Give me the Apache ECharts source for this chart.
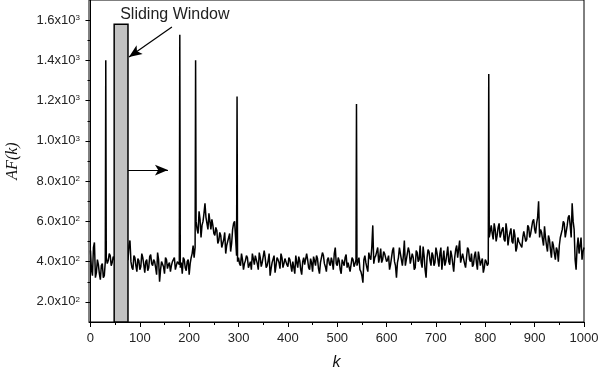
<!DOCTYPE html>
<html>
<head>
<meta charset="utf-8">
<title>AF(k) sliding window</title>
<script src="https://cdn.jsdelivr.net/npm/echarts@6/dist/echarts.min.js"></script>
<style>
    * { margin:0; padding:0; }
    #main { width:602px; height:370px; }
</style>
</head>
<body>
<div id="main"></div>
<script>
// AF(k) read at k = 0, 4, 8, ... 1000
var kStep = 4;
var afBase = [
    455,330,495,345,385,310,390,330,
    420,405,430,395,420,
    410,390,420,400,415,395,410,
    505,370,430,380,415,360,440,385,400,355,425,390,410,370,445,300,400,375,420,365,395,380,410,360,400,385,
    395,420,370,400,335,420,480,
    470,
    560,650,520,600,690,
    590,640,560,580,530,555,505,530,470,545,480,520,450,560,600,
    430,
    420,380,410,390,430,370,400,440,385,410,360,420,395,455,370,405,330,395,430,380,410,365,420,390,400,
    375,410,350,395,430,370,405,335,420,385,410,360,395,425,380,415,340,400,430,375,410,390,420,360,470,
    380,405,340,395,420,370,400,355,410,390,
    380,420,350,295,430,370,445,410,580,420,450,395,465,410,440,400,
    430,385,455,400,320,420,440,380,505,410,470,390,440,360,455,400,480,370,430,320,460,405,445,380,470,
    410,440,360,455,400,475,385,430,350,460,420,505,400,445,370,470,410,440,385,450,360,420,400,345,410,380,
    520,580,510,560,530,590,540,570,500,550,520,565,490,530,470,500,480,520,545,510,570,540,600,560,590,
    700,560,510,575,480,530,460,500,440,470,400,520,560,590,550,620,580,690,560,360,520,480,410,470
];
// AF(k) read in between, at k = 2, 6, 10, ... 998
var midOffset = 2;
var afMid = [
    360,470,320,410,340,380,320,400,
    390,440,380,425,400,
    400,410,395,420,400,405,
    480,400,360,420,350,405,375,420,345,410,370,435,380,400,335,410,360,395,340,410,385,350,400,420,365,405,
    370,340,410,355,410,390,440,420,
    600,540,610,580,640,620,
    560,600,610,540,570,490,545,470,510,440,500,540,490,590,520,
    400,390,440,360,405,420,385,360,415,430,390,445,375,400,420,380,440,365,400,345,420,395,440,370,415,385,
    420,380,400,340,395,425,360,400,385,440,370,415,350,405,430,365,395,445,390,350,420,380,400,440,390,
    420,360,410,380,435,395,350,420,375,410,
    400,360,330,410,395,350,420,470,390,430,470,420,395,450,420,
    410,360,420,470,380,395,470,410,430,380,405,450,390,420,370,445,410,395,475,360,
    420,450,380,430,395,445,375,470,410,380,435,400,455,390,420,480,415,395,440,390,
    420,460,400,375,430,395,450,380,415,370,400,390,
    550,540,590,500,570,520,560,510,590,480,545,500,560,450,520,500,470,550,500,580,520,570,610,540,
    620,520,545,480,520,450,510,420,480,410,455,480,540,600,520,580,630,520,600,410,470,440,520,450
];
// narrow peaks
var spikeK   = [31, 181, 213, 297, 539, 807];
var spikeVal = [1400, 1527, 1400, 1220, 1183, 1332];

// sliding window and its notes
var windowK = [48, 76];
var windowTop = 1580;
var arrowDiag = [[165, 1566], [78, 1417]];
var arrowRight = [[76, 855], [157, 855]];
var noteText = 'Sliding Window';
var notePos = [171, 1628];

// axes
var xMin = -3, xMax = 1000;
var yMin = 100, yMax = 1700;
var xTicks = [0, 100, 200, 300, 400, 500, 600, 700, 800, 900, 1000];
var xMinorTicks = [50, 150, 250, 350, 450, 550, 650, 750, 850, 950];
var yTicks = [200, 400, 600, 800, 1000, 1200, 1400, 1600];
var yMinorTicks = [300, 500, 700, 900, 1100, 1300, 1500];

var pts = afBase.map(function (v, i) { return [i * kStep, v]; });
afMid.forEach(function (v, i) { pts.push([midOffset + i * kStep, v]); });
spikeK.forEach(function (k, i) { pts.push([k, spikeVal[i]]); });
pts.sort(function (a, b) { return a[0] - b[0]; });

var font = 'Liberation Sans';
var black = '#000';

function sciLabel(v) {
    var e = v >= 1000 ? 3 : 2;
    var m = (v / Math.pow(10, e)).toFixed(1);
    return '{m|' + m + 'x10}{e|' + e + '}';
}

var chart = echarts.init(document.getElementById('main'));
chart.setOption({
    animation: false,
    backgroundColor: '#fff',
    grid: {left: 89, right: 18, top: 0, bottom: 48, show: true, borderColor: black, borderWidth: 1,
        outerBoundsMode: 'none'},
    xAxis: [{
        type: 'value', min: xMin, max: xMax, position: 'bottom',
        axisLine: {show: true, lineStyle: {color: black, width: 1}},
        axisTick: {show: true, length: 5, customValues: xTicks, lineStyle: {color: black}},
        axisLabel: {customValues: xTicks, margin: 10, fontSize: 13, fontFamily: font, color: '#222',
            formatter: function (v) { return String(v); }},
        splitLine: {show: false},
        name: 'k', nameLocation: 'middle', nameGap: 33,
        nameTextStyle: {fontStyle: 'italic', fontSize: 16, fontFamily: font, color: '#111'}
    }, {
        type: 'value', min: xMin, max: xMax, position: 'bottom',
        axisLine: {show: false},
        axisTick: {show: true, length: 3, customValues: xMinorTicks, lineStyle: {color: black}},
        axisLabel: {show: false},
        splitLine: {show: false}
    }],
    yAxis: [{
        type: 'value', min: yMin, max: yMax, interval: 100, position: 'left',
        axisLine: {show: true, lineStyle: {color: black, width: 1}},
        axisTick: {show: true, length: 5, customValues: yTicks, lineStyle: {color: black}},
        axisLabel: {
            customValues: yTicks, margin: 9, formatter: sciLabel,
            rich: {
                m: {fontSize: 13, fontFamily: font, color: '#222'},
                e: {fontSize: 8, fontFamily: font, color: '#222', verticalAlign: 'top'}
            }
        },
        splitLine: {show: false},
        name: 'AF(k)', nameLocation: 'middle', nameGap: 68,
        nameTextStyle: {fontStyle: 'italic', fontSize: 16, fontFamily: 'Liberation Serif', color: '#111'}
    }, {
        type: 'value', min: yMin, max: yMax, interval: 100, position: 'left',
        axisLine: {show: false},
        axisTick: {show: true, length: 3, customValues: yMinorTicks, lineStyle: {color: black}},
        axisLabel: {show: false},
        splitLine: {show: false}
    }],
    series: [{
        type: 'line',
        data: pts,
        showSymbol: false,
        lineStyle: {color: black, width: 1.5},
        z: 2
    }, {
        type: 'custom',
        z: 5,
        data: [[windowK[0], windowK[1], windowTop]],
        renderItem: function (params, api) {
            var p0 = api.coord([api.value(0), api.value(2)]);
            var p1 = api.coord([api.value(1), yMin]);
            return {
                type: 'rect',
                shape: {x: p0[0], y: p0[1], width: p1[0] - p0[0], height: p1[1] - p0[1]},
                style: {fill: '#c2c2c2', stroke: black, lineWidth: 1.5}
            };
        },
        markLine: {
            silent: true,
            symbol: ['none', 'arrow'],
            symbolSize: [8, 13],
            lineStyle: {color: black, width: 1.2, type: 'solid'},
            label: {show: false},
            data: [
                [{coord: arrowDiag[0]}, {coord: arrowDiag[1]}],
                [{coord: arrowRight[0]}, {coord: arrowRight[1]}]
            ]
        },
        markPoint: {
            silent: true,
            symbol: 'rect',
            symbolSize: 1,
            itemStyle: {color: 'rgba(0,0,0,0)'},
            label: {show: true, position: 'inside', formatter: noteText,
                fontSize: 16, fontFamily: font, color: '#222'},
            data: [{coord: notePos}]
        }
    }]
});
</script>
</body>
</html>
